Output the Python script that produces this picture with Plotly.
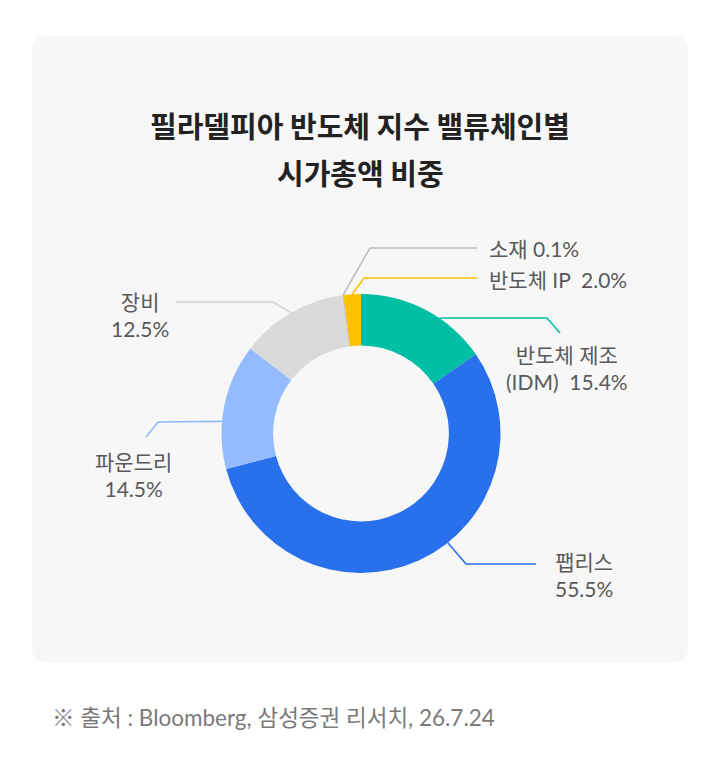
import math
import plotly.graph_objects as go

# ---- data ----
categories = ["반도체 제조", "팹리스", "파운드리", "장비", "소재", "반도체 IP"]
shares = [15.4, 55.5, 14.5, 12.5, 0.1, 2.0]
colors = ["#00BFA5", "#2870EC", "#94BAFF", "#D9D9D9", "#B3B3B3", "#FFC000"]
line_colors = ["#00BFA5", "#2870EC", "#94BAFF", "#D4D4D4", "#BDBDBD", "#FFC000"]

title_lines = ["필라델피아 반도체 지수 밸류체인별", "시가총액 비중"]
source_text = "※ 출처 : Bloomberg, 삼성증권 리서치, 26.7.24"

# page is 720x772; browser body has an 8px margin, so the figure is offset by 8px
OFF = 8
W, H = 704, 756
CX, CY, R = 361, 433.5, 139.5


def px(x):
    return (x - OFF) / W


def py(y):
    return 1 - (y - OFF) / H


# label layout: text template, anchor angle override, elbow, end, text pos, xanchor
label_specs = [
    dict(tpl="{n}<br>(IDM)  {v:.1f}%", ang=34.1, elbow=(547, 318), end=(560, 333), pos=(567, 368), xa="center"),
    dict(tpl="{n}<br>{v:.1f}%", ang=141.5, elbow=(466, 564), end=(536, 564), pos=(584, 575), xa="center"),
    dict(tpl="{n}<br>{v:.1f}%", ang=275.0, elbow=(158, 422), end=(146, 437), pos=(133, 475), xa="center"),
    dict(tpl="{n}<br>{v:.1f}%", ang=None, elbow=(273, 302), end=(176, 302), pos=(140, 315), xa="center"),
    dict(tpl="{n} {v:.1f}%", ang=None, elbow=(370, 248), end=(477, 248), pos=(487, 248), xa="left"),
    dict(tpl="{n}  {v:.1f}%", ang=None, elbow=(364, 278), end=(477, 278), pos=(487, 279), xa="left"),
]

fig = go.Figure()
fig.add_trace(go.Pie(
    labels=categories,
    values=shares,
    marker=dict(colors=colors, line=dict(width=0)),
    hole=0.63,
    sort=False,
    direction="clockwise",
    rotation=0,
    textinfo="none",
    hoverinfo="label+percent",
    showlegend=False,
    domain=dict(x=[px(CX - R), px(CX + R)], y=[py(CY + R), py(CY - R)]),
))

shapes = []
# card background with rounded corners
x0, x1, y0, y1, rr = 32, 688, 36, 663, 16
card = (f"M {px(x0+rr)},{py(y0)} L {px(x1-rr)},{py(y0)} Q {px(x1)},{py(y0)} {px(x1)},{py(y0+rr)} "
        f"L {px(x1)},{py(y1-rr)} Q {px(x1)},{py(y1)} {px(x1-rr)},{py(y1)} "
        f"L {px(x0+rr)},{py(y1)} Q {px(x0)},{py(y1)} {px(x0)},{py(y1-rr)} "
        f"L {px(x0)},{py(y0+rr)} Q {px(x0)},{py(y0)} {px(x0+rr)},{py(y0)} Z")
shapes.append(dict(type="path", path=card, xref="paper", yref="paper",
                   fillcolor="#F7F7F7", line=dict(width=0), layer="below"))

annotations = []
total = sum(shares)
cum = 0.0
for i, (name, v) in enumerate(zip(categories, shares)):
    mid = (cum + v / 2) / total * 360
    cum += v
    spec = label_specs[i]
    ang = spec["ang"] if spec["ang"] is not None else mid
    sx = CX + R * math.sin(math.radians(ang))
    sy = CY - R * math.cos(math.radians(ang))
    ex, ey = spec["elbow"]
    tx, ty = spec["end"]
    path = f"M {px(sx)},{py(sy)} L {px(ex)},{py(ey)} L {px(tx)},{py(ty)}"
    shapes.append(dict(type="path", path=path, xref="paper", yref="paper",
                       line=dict(color=line_colors[i], width=1.6)))
    lx, ly = spec["pos"]
    annotations.append(dict(
        text=spec["tpl"].format(n=name, v=v), x=px(lx), y=py(ly), xref="paper", yref="paper",
        xanchor=spec["xa"], yanchor="middle", showarrow=False, align="center",
        font=dict(size=21, color="#595959", family="Lato, 'Noto Sans CJK KR', sans-serif"),
    ))

for t, yy in zip(title_lines, [125, 172]):
    annotations.append(dict(
        text=f"<b>{t}</b>", x=px(360), y=py(yy), xref="paper", yref="paper",
        xanchor="center", yanchor="middle", showarrow=False,
        font=dict(size=29, color="#222222", family="'Noto Sans CJK KR', sans-serif"),
    ))

annotations.append(dict(
    text=source_text, x=px(50), y=py(717), xref="paper", yref="paper",
    xanchor="left", yanchor="middle", showarrow=False,
    font=dict(size=22.5, color="#7A7A7A", family="Lato, 'Noto Sans CJK KR', sans-serif"),
))

fig.update_layout(
    width=W, height=H,
    margin=dict(l=0, r=0, t=0, b=0),
    paper_bgcolor="#FFFFFF",
    plot_bgcolor="#FFFFFF",
    shapes=shapes,
    annotations=annotations,
)

fig.write_html("out.html")
